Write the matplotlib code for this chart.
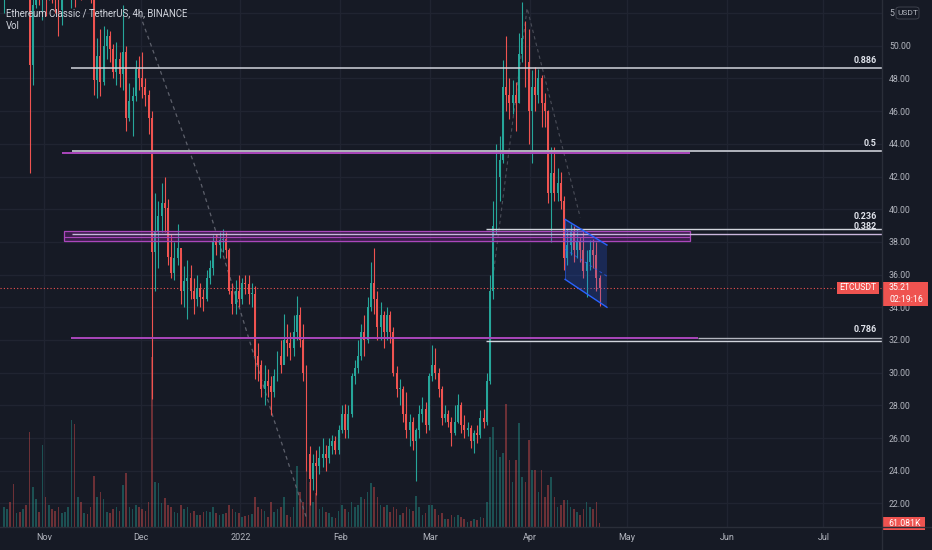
import numpy as np
import pandas as pd
import matplotlib
matplotlib.use("Agg")
import matplotlib.pyplot as plt
import matplotlib.dates as mdates
from matplotlib.patches import Rectangle, Polygon, FancyBboxPatch
from matplotlib.lines import Line2D

# --- Colours ---
BG = '#161a25'
GRID = '#202431'
TEXT = '#b2b5be'
UP = '#26a69a'
DOWN = '#ef5350'
PURPLE = '#9c27b0'

plt.rcParams['font.family'] = ['Roboto', 'DejaVu Sans']

# --- Data (daily OHLC, ETC/USDT) ---
dates = pd.date_range('2021-10-19', '2022-04-22', freq='D')
first_open = 53.8
close = [
    55.0, 56.5, 55.2, 54.4, 55.0, 54.2, 55.6, 53.6, 48.8, 52.5, 54.0, 53.4, 54.2,             # Oct
    53.0, 54.6, 53.8, 52.9, 52.2, 53.2, 54.6, 56.5, 57.0, 54.0, 55.0, 54.0, 54.6, 54.0, 53.2,  # Nov 1-15
    47.9, 49.4, 47.8, 50.0, 50.6, 49.8, 48.4, 49.2, 48.3, 49.6, 45.6, 46.6, 46.9, 48.6, 48.0,  # Nov 16-30
    47.5, 47.0, 45.6, 37.4, 38.6, 39.6, 40.4, 40.1, 37.1, 36.1, 37.0, 37.6, 35.0, 35.6, 35.8,  # Dec 1-15
    35.0, 34.5, 35.2, 34.6, 34.5, 35.8, 36.4, 38.0, 37.8, 38.1, 38.2, 37.5, 35.0, 34.2, 35.0, 34.5,  # Dec 16-31
    35.5, 35.4, 34.8, 34.8, 31.0, 30.5, 29.0, 29.5, 29.2, 28.8, 29.8, 31.0, 30.5, 32.0, 31.8,  # Jan 1-15
    31.5, 32.5, 33.5, 32.0, 30.0, 25.0, 23.5, 24.5, 24.3, 24.8, 25.0, 24.8, 25.5, 25.8, 25.3, 26.5,  # Jan 16-31
    27.5, 26.5, 27.5, 29.8, 30.3, 31.0, 32.5, 32.0, 34.0, 35.5, 34.5, 32.8, 33.5, 32.5,        # Feb 1-14
    33.5, 32.5, 30.0, 29.0, 29.0, 27.5, 26.5, 27.0, 25.8, 26.5, 27.5, 27.8, 26.8, 29.8,        # Feb 15-28
    30.5, 30.0, 29.0, 27.2, 27.5, 27.0, 26.3, 27.0, 28.0, 26.8, 26.5, 26.6, 25.8, 26.3, 26.2,  # Mar 1-15
    27.2, 27.0, 29.5, 35.0, 39.0, 42.0, 43.0, 47.5, 47.0, 46.5, 47.0, 46.5, 49.5, 50.5, 49.0, 46.0,  # Mar 16-31
    47.5, 47.0, 48.0, 46.5, 46.0, 41.0, 42.2, 41.0, 41.6, 40.5, 37.0,                          # Apr 1-11
    37.8, 38.6, 37.5, 38.0, 37.5, 36.2, 36.8, 37.5, 37.2, 35.8, 35.21,                         # Apr 12-22
]
high = [
    55.8, 57.2, 58.0, 56.5, 55.8, 55.5, 56.5, 56.0, 54.0, 53.5, 55.0, 54.5, 55.2,
    54.5, 55.5, 55.2, 54.2, 53.8, 53.8, 55.0, 57.2, 58.2, 58.5, 56.0, 55.5, 55.2, 55.0, 55.0,
    53.3, 50.5, 51.0, 51.2, 51.0, 50.9, 50.1, 50.2, 49.6, 52.5, 50.0, 47.7, 47.5, 49.1, 49.4,
    49.6, 48.0, 47.3, 46.0, 41.0, 40.5, 41.6, 42.0, 40.6, 38.5, 38.0, 39.1, 37.3, 36.5, 36.9,
    36.6, 35.8, 36.0, 35.5, 35.1, 36.3, 36.9, 38.4, 38.5, 38.6, 38.8, 38.6, 37.6, 35.5, 35.7, 36.0,
    35.8, 36.0, 36.0, 35.5, 35.3, 31.8, 30.8, 30.5, 30.2, 29.8, 30.2, 31.3, 32.0, 33.6, 33.0,
    32.5, 33.5, 34.7, 34.0, 33.0, 30.5, 25.5, 25.0, 25.3, 25.5, 26.0, 25.6, 26.0, 26.2, 26.1, 26.8,
    28.0, 28.1, 28.0, 30.0, 30.8, 32.0, 33.0, 33.5, 34.6, 36.8, 37.6, 35.0, 34.3, 33.8,
    34.0, 33.8, 32.8, 30.4, 29.6, 29.2, 28.8, 27.5, 27.3, 26.6, 28.0, 28.5, 28.2, 30.0,
    31.7, 31.5, 30.3, 29.2, 28.0, 27.7, 27.3, 28.0, 28.7, 28.2, 27.4, 27.0, 26.8, 26.5, 26.8,
    27.7, 27.8, 30.0, 36.0, 40.5, 44.0, 44.5, 49.1, 50.6, 48.0, 47.9, 47.8, 50.8, 52.7, 51.5, 51.0,
    48.5, 48.7, 48.6, 48.2, 47.1, 46.1, 43.8, 43.8, 42.5, 42.3, 40.8,
    38.8, 39.1, 39.0, 38.8, 38.3, 38.7, 37.5, 38.1, 38.2, 38.0, 36.0,
]
low = [
    52.0, 54.2, 54.0, 53.5, 53.8, 53.4, 53.9, 53.0, 42.2, 47.6, 52.3, 52.5, 51.6,
    51.8, 52.8, 52.6, 52.0, 50.6, 51.3, 53.0, 54.2, 52.3, 52.4, 53.2, 52.8, 53.3, 53.0, 52.6,
    47.0, 46.8, 46.9, 47.6, 49.2, 49.0, 48.0, 47.6, 47.5, 47.3, 44.8, 45.4, 44.5, 46.6, 47.3,
    46.8, 46.3, 44.6, 28.4, 35.0, 36.4, 38.6, 38.6, 36.6, 35.8, 35.7, 36.6, 34.2, 34.0, 33.3,
    34.5, 33.6, 34.1, 34.0, 33.8, 34.4, 35.4, 36.0, 37.2, 37.0, 37.4, 37.0, 34.8, 33.6, 33.6, 34.0,
    34.2, 34.8, 34.2, 34.0, 29.6, 29.5, 28.5, 28.0, 28.5, 27.4, 28.5, 29.5, 30.0, 30.6, 31.0,
    30.8, 31.0, 32.0, 31.6, 29.5, 24.0, 21.9, 22.8, 22.5, 23.8, 24.2, 24.0, 24.5, 25.0, 25.0, 25.0,
    26.3, 26.0, 26.0, 27.3, 29.3, 30.0, 30.8, 31.0, 31.8, 33.8, 33.6, 32.0, 32.0, 31.5,
    32.0, 31.8, 29.8, 28.5, 28.0, 27.0, 26.0, 25.5, 25.3, 23.4, 26.0, 27.0, 26.3, 26.5,
    29.5, 29.6, 28.5, 26.8, 27.0, 26.7, 25.5, 26.2, 26.9, 26.3, 26.0, 26.1, 25.4, 25.1, 25.7,
    26.0, 26.6, 26.8, 29.3, 34.5, 38.5, 40.5, 42.8, 46.0, 45.5, 45.8, 44.8, 46.5, 49.0, 47.5, 44.0,
    42.8, 46.0, 46.5, 45.0, 45.0, 40.4, 38.0, 40.5, 40.5, 40.0, 36.3,
    36.6, 37.2, 36.8, 37.0, 36.8, 35.8, 34.6, 36.3, 36.4, 35.0, 34.1,
]
volume = [  # thousand ETC, tallest 4h bar of each day
    300, 270, 375, 645, 210, 225, 270, 330, 1425, 600, 420, 225, 1230,
    450, 330, 270, 240, 300, 210, 225, 300, 1605, 1545, 450, 375, 210, 195, 300,
    765, 450, 525, 420, 225, 210, 270, 300, 240, 630, 810, 300, 270, 330, 300,
    270, 240, 375, 2550, 675, 660, 360, 435, 330, 300, 225, 210, 330, 270, 300,
    210, 240, 180, 180, 225, 240, 225, 300, 210, 180, 195, 210, 330, 270, 225, 210,
    150, 165, 180, 195, 450, 300, 270, 240, 150, 375, 225, 270, 300, 450, 180,
    150, 300, 915, 525, 375, 1005, 675, 375, 510, 270, 300, 225, 210, 150, 135, 240,
    330, 270, 225, 375, 300, 330, 450, 420, 525, 660, 600, 450, 330, 300,
    330, 225, 300, 270, 180, 210, 300, 270, 240, 465, 300, 180, 210, 330,
    330, 270, 180, 210, 120, 120, 180, 150, 180, 150, 120, 75, 90, 120, 105,
    150, 135, 375, 1350, 1500, 1155, 1050, 1110, 1845, 1005, 675, 1005, 1560, 750, 675, 1305,
    855, 855, 525, 855, 450, 630, 750, 450, 300, 330, 405,
    405, 300, 270, 225, 180, 270, 375, 300, 270, 375, 61,
]

# --- Chart drawings (day offsets from 2021-11-01, prices) ---
fib_levels = [  # price, start day, end day (None = right edge), colour, width
    (48.65, 8.4, None, '#d1d4dc', 1.1),
    (43.56, 8.7, None, '#b2b5be', 1.4),
    (43.45, 5.6, 200.6, '#ab47bc', 1.4),
    (38.48, 8.7, None, '#c9b6dc', 1.0),
    (38.79, 137.3, None, '#d1d4dc', 1.0),
    (38.30, 6.2, 200.6, '#ab47bc', 0.8),
    (32.10, 8.4, 203.0, '#ab47bc', 1.4),
    (32.14, 203.0, None, '#b2b5be', 1.0),
    (31.91, 137.3, None, '#d1d4dc', 1.0),
]
fib_labels = [('0.886', 48.65), ('0.5', 43.56), ('0.236', 39.05),
              ('0.382', 38.48), ('0.786', 32.14)]
zone = (6.2, 200.6, 38.05, 38.67)           # start day, end day, low, high
channel_days = [161.8, 174.8]
channel_top = [39.38, 37.81]
channel_bottom = [35.71, 34.00]
trend_days = [29.8, 48.4, 71.1, 81.7]
trend_prices = [51.9, 41.8, 27.3, 21.0]
path_days = [139.4, 150.0, 166.5]
path_prices = [35.85, 52.3, 39.5]
last_price = 35.21

# --- Prepare ---
x = mdates.date2num(dates) + 0.5
close = np.array(close)
high = np.array(high)
low = np.array(low)
volume = np.array(volume, dtype=float)
opens = np.r_[first_open, close[:-1]]
up = close >= opens
col = np.where(up, UP, DOWN)
day0 = mdates.date2num(pd.Timestamp('2021-11-01'))

# --- Figure / axes ---
fig = plt.figure(figsize=(9.32, 5.5), dpi=100, facecolor=BG)
rect = [0, 23 / 550, 882 / 932, 527 / 550]
axv = fig.add_axes(rect)
ax = fig.add_axes(rect)
axv.set_facecolor(BG)
ax.patch.set_alpha(0)
xmin, xmax = day0 - 13.66, day0 + 260.2
for a in (ax, axv):
    a.set_xlim(xmin, xmax)
    for s in a.spines.values():
        s.set_visible(False)
axv.set_ylim(0, 7905)
axv.set_xticks([])
axv.set_yticks([])

# grid
months = pd.date_range('2021-11-01', '2022-07-01', freq='MS')
mx = mdates.date2num(months)
ticks = np.arange(22, 51, 2)
for p in np.arange(22, 53, 2):
    axv.axhline((p - 20.56) / (52.8 - 20.56) * 7905, color=GRID, lw=1, zorder=0)
for m in mx:
    axv.axvline(m, color=GRID, lw=1, zorder=0)

# volume
vcol = np.where(up, UP, DOWN)
axv.bar(x, volume, width=0.5, color=vcol, alpha=0.4, linewidth=0, zorder=1)

# candles
ax.vlines(x, low, high, colors=col, linewidth=0.8, zorder=3)
body_lo = np.minimum(opens, close)
body_h = np.maximum(np.abs(close - opens), 0.08)
ax.bar(x, body_h, bottom=body_lo, width=0.6, color=col, linewidth=0, zorder=4)

ax.set_ylim(20.56, 52.8)

# trend dashes
ax.plot(day0 + np.array(trend_days), trend_prices, color='#5d606b', lw=0.9,
        ls=(0, (3, 3)), zorder=2)
ax.plot(day0 + np.array(path_days), path_prices, color='#4a4d58', lw=0.8,
        ls=(0, (3, 3)), zorder=2)

# fib levels and zone
ax.add_patch(Rectangle((day0 + zone[0], zone[2]), zone[1] - zone[0], zone[3] - zone[2],
                       facecolor=PURPLE, alpha=0.28, edgecolor='none', zorder=5))
ax.add_patch(Rectangle((day0 + zone[0], zone[2]), zone[1] - zone[0], zone[3] - zone[2],
                       facecolor='none', edgecolor='#ab47bc', lw=0.9, zorder=5))
for p, d0, d1, c, lw in fib_levels:
    end = xmax if d1 is None else day0 + d1
    ax.plot([day0 + d0, end], [p, p], color=c, lw=lw, zorder=6, solid_capstyle='butt')
for txt, p in fib_labels:
    ax.text(0.994, p + 0.2, txt, transform=ax.get_yaxis_transform(), ha='right',
            va='bottom', color='#e0e3eb', fontsize=6.5, fontweight='bold', zorder=7)

# channel
cd = day0 + np.array(channel_days)
poly = Polygon([(cd[0], channel_top[0]), (cd[1], channel_top[1]),
                (cd[1], channel_bottom[1]), (cd[0], channel_bottom[0])],
               closed=True, facecolor='#2962ff', alpha=0.22, edgecolor='none', zorder=5)
ax.add_patch(poly)
ax.plot(cd, channel_top, color='#2962ff', lw=1, zorder=6)
ax.plot(cd, channel_bottom, color='#2962ff', lw=1, zorder=6)
ax.plot([cd[0], cd[0]], [channel_bottom[0], channel_top[0]], color='#2962ff', lw=0.6, alpha=0.6, zorder=6)
ax.plot(cd, [(channel_top[0] + channel_bottom[0]) / 2, (channel_top[1] + channel_bottom[1]) / 2],
        color='#2962ff', lw=0.7, ls=(0, (3, 3)), alpha=0.7, zorder=6)

# last price line
ax.axhline(last_price, color=DOWN, lw=0.8, ls=(0, (1, 2)), zorder=2)

# axes ticks
ax.yaxis.tick_right()
ax.set_yticks(ticks)
ax.set_yticklabels(['%.2f' % t for t in ticks])
ax.set_xticks(mx)
ax.set_xticklabels(['2022' if m.month == 1 else m.strftime('%b') for m in months])
ax.tick_params(axis='y', length=0, pad=5, labelsize=6.3, labelcolor=TEXT)
ax.tick_params(axis='x', length=0, pad=4, labelsize=6.5, labelcolor=TEXT)

# frame lines
fig.add_artist(Line2D([0, 1], [23 / 550, 23 / 550], color='#2a2e39', lw=1))
fig.add_artist(Line2D([882 / 932, 882 / 932], [0, 1], color='#2a2e39', lw=1))


def fx(px):
    return px / 932


def fy(py):
    return 1 - py / 550


# title
fig.text(fx(6), fy(13), 'Ethereum Classic / TetherUS, 4h, BINANCE', color='#d1d4dc',
         fontsize=6.9, va='center', ha='left')
fig.text(fx(6), fy(26), 'Vol', color='#d1d4dc', fontsize=6.9, va='center', ha='left')

# USDT box (hides most of the 52.00 tick label)
fig.text(fx(889), fy(13), '5', color=TEXT, fontsize=6.3, ha='left', va='center')
fig.add_artist(FancyBboxPatch((fx(896), fy(19)), fx(23), 12 / 550,
                              boxstyle='round,pad=0,rounding_size=0.004',
                              facecolor=BG, edgecolor='#434651', lw=0.6))
fig.text(fx(907.5), fy(13), 'USDT', color=TEXT, fontsize=6.0, ha='center', va='center')

# price labels
fig.add_artist(Rectangle((fx(837), fy(294)), fx(42), 12 / 550, facecolor=DOWN, edgecolor='none'))
fig.text(fx(858), fy(288), 'ETCUSDT', color='white', fontsize=6.2, ha='center', va='center')
fig.add_artist(Rectangle((fx(882), fy(306)), fx(46), 24 / 550, facecolor=DOWN, edgecolor='none'))
fig.text(fx(889), fy(288), '%.2f' % last_price, color='white', fontsize=6.3, ha='left', va='center')
fig.text(fx(889), fy(299), '02:19:16', color='white', fontsize=6.3, ha='left', va='center')
fig.add_artist(Rectangle((fx(882), fy(530)), fx(43), 13 / 550, facecolor=DOWN, edgecolor='none'))
fig.text(fx(888), fy(524), '61.081K', color='white', fontsize=6.3, ha='left', va='center')

fig.savefig('out.png', dpi=100, facecolor=BG)
